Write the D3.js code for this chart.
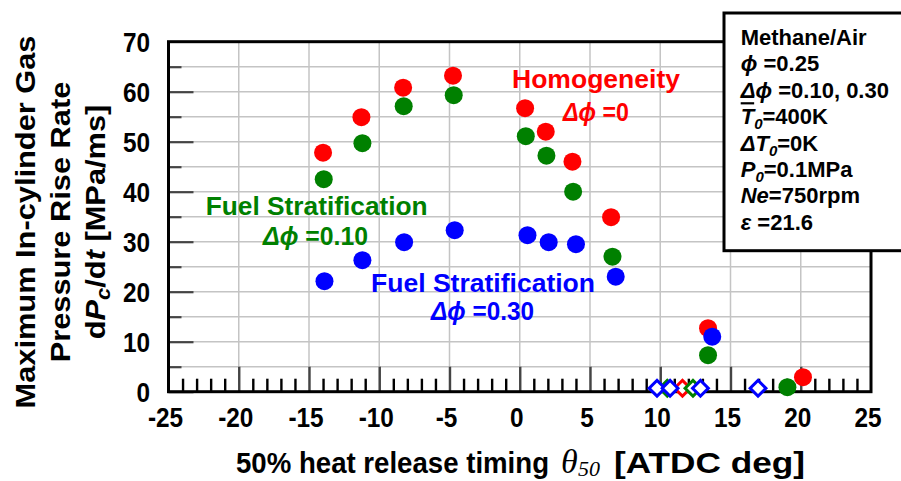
<!DOCTYPE html>
<html><head><meta charset="utf-8">
<script src="https://cdn.jsdelivr.net/npm/d3@7"></script>
<style>
html,body{margin:0;padding:0;background:#fff;}
svg{display:block;}
text{font-family:"Liberation Sans",Arial,sans-serif;font-weight:bold;}
text.serif{font-family:"Liberation Serif","Times New Roman",serif;font-weight:normal;font-style:italic;}
</style></head>
<body><svg id="c" width="901" height="481"></svg>
<script>
// ---- data ----
const xTicks = [-25,-20,-15,-10,-5,0,5,10,15,20,25];
const yTicks = [0,10,20,30,40,50,60,70];
const homX = [-14.0,-11.27,-8.3,-4.75,0.38,1.85,3.75,6.5,13.4,20.16];
const homY = [47.8,54.9,60.8,63.2,56.7,52.0,46.0,34.9,12.7,2.9];
const fs10X = [-13.95,-11.2,-8.26,-4.7,0.43,1.9,3.8,6.6,13.4,19.05];
const fs10Y = [42.5,49.7,57.1,59.3,51.1,47.2,40.0,27.0,7.3,0.9];
const fs30X = [-13.9,-11.2,-8.23,-4.63,0.55,2.06,4.0,6.83,13.7];
const fs30Y = [22.1,26.3,29.9,32.3,31.3,29.9,29.5,23.0,11.0];
const homMisX = [11.58];
const fs10MisX = [10.5,12.33];
const fs30MisX = [9.77,10.7,12.86,16.96];
const misY = 0.7;
const series = [
  {name:"Homogeneity", color:"#ff0000", xs:homX, ys:homY, mis:homMisX},
  {name:"FS 0.10", color:"#008000", xs:fs10X, ys:fs10Y, mis:fs10MisX},
  {name:"FS 0.30", color:"#0000ff", xs:fs30X, ys:fs30Y, mis:fs30MisX}
];

const svg = d3.select("#c");
const x = d3.scaleLinear().domain([-25,25]).range([168.5,871]);
const y = d3.scaleLinear().domain([0,70]).range([391.7,41.7]);

// grid
const g = svg.append("g");
g.selectAll(".vg").data(d3.range(-20,25,5)).enter().append("line")
  .attr("x1",d=>x(d)).attr("x2",d=>x(d)).attr("y1",y(70)).attr("y2",y(0))
  .attr("stroke","#c4c4c4").attr("stroke-width",1.5);
g.selectAll(".hg").data(d3.range(5,70,5)).enter().append("line")
  .attr("x1",x(-25)).attr("x2",x(25)).attr("y1",d=>y(d)).attr("y2",d=>y(d))
  .attr("stroke","#c4c4c4").attr("stroke-width",1.5);

// y axis ticks (inside)
const yAxis = d3.axisRight(y).tickValues(d3.range(0,70,5)).tickFormat("").tickSize(0);
const ya = svg.append("g").attr("transform",`translate(${x(-25)},0)`).call(yAxis);
ya.select(".domain").remove();
ya.selectAll(".tick line").attr("x2",d=>d%10===0?25:13).attr("stroke","#444").attr("stroke-width",2.2);

// x axis ticks (inside, pointing up)
const xAxis = d3.axisTop(x).tickValues(d3.range(-24,25,1)).tickFormat("").tickSize(0);
const xa = svg.append("g").attr("transform",`translate(0,${y(0)})`).call(xAxis);
xa.select(".domain").remove();
xa.selectAll(".tick line").attr("y2",d=>d%5===0?-25:-13)
  .attr("stroke",d=>d%5===0?"#444":"#000").attr("stroke-width",2.4);

// frame
svg.append("rect").attr("x",x(-25)).attr("y",y(70)).attr("width",x(25)-x(-25)).attr("height",y(0)-y(70))
  .attr("fill","none").attr("stroke","#000").attr("stroke-width",3);

// tick labels
const HS = 0.87;
function hText(sel, xx, yy, size, anchor){
  return sel.append("text").attr("transform",`translate(${xx},${yy}) scale(${HS},1)`)
    .attr("font-size",size).attr("text-anchor",anchor||"start");
}
yTicks.forEach(v=>{
  hText(svg, 150, y(v)+10, 28, "end").text(v);
});
xTicks.forEach(v=>{
  hText(svg, x(v)-3, 427, 28, "middle").text(v);
});

// y title
function yTitle(xx, build){
  const t = svg.append("text").attr("transform",`translate(${xx},222) rotate(-90) scale(1.1,1)`)
    .attr("font-size",28).attr("text-anchor","middle");
  build(t);
}
yTitle(35, t=>t.text("Maximum In-cylinder Gas"));
yTitle(70, t=>t.text("Pressure Rise Rate"));
yTitle(105, t=>{
  t.append("tspan").text("d");
  t.append("tspan").attr("font-style","italic").text("P");
  t.append("tspan").attr("font-style","italic").attr("font-size",20).attr("dy",5).text("c");
  t.append("tspan").attr("dy",-5).text("/d");
  t.append("tspan").attr("font-style","italic").text("t");
  t.append("tspan").text(" [MPa/ms]");
});

// x title
svg.append("text").attr("x",236).attr("y",473).attr("font-size",30)
  .attr("textLength",313).attr("lengthAdjust","spacingAndGlyphs").text("50% heat release timing");
svg.append("text").attr("class","serif").attr("x",561).attr("y",473).attr("font-size",34).text("θ");
svg.append("text").attr("class","serif").attr("x",578).attr("y",476).attr("font-size",22).text("50");
svg.append("text").attr("x",614).attr("y",473).attr("font-size",30)
  .attr("textLength",191).attr("lengthAdjust","spacingAndGlyphs").text("[ATDC deg]");

// annotations
function ann(xx, yy, w, color, build){
  const t = svg.append("text").attr("x",xx).attr("y",yy).attr("font-size",25).attr("fill",color)
    .attr("textLength",w).attr("lengthAdjust","spacingAndGlyphs");
  build(t);
}
function dphi(t, rest){
  t.append("tspan").attr("font-style","italic").text("Δϕ ");
  t.append("tspan").text(rest);
}
ann(512, 88, 168, "#ff0000", t=>t.text("Homogeneity"));
ann(563, 121, 66, "#ff0000", t=>dphi(t,"=0"));
ann(205.7, 215, 222, "#008000", t=>t.text("Fuel Stratification"));
ann(263, 245, 105, "#008000", t=>dphi(t,"=0.10"));
ann(371, 291.7, 224, "#0000ff", t=>t.text("Fuel Stratification"));
ann(431, 320, 103, "#0000ff", t=>dphi(t,"=0.30"));

// markers
series.forEach(s=>{
  svg.append("g").selectAll("circle").data(s.xs.map((v,i)=>[v,s.ys[i]])).enter().append("circle")
    .attr("cx",d=>x(d[0])).attr("cy",d=>y(d[1])).attr("r",9).attr("fill",s.color);
});
series.forEach(s=>{
  svg.append("g").selectAll("path").data(s.mis).enter().append("path")
    .attr("d",d3.symbol().type(d3.symbolSquare).size(125)())
    .attr("transform",d=>`translate(${x(d)},${y(misY)}) rotate(45)`)
    .attr("fill","#fff").attr("stroke",s.color).attr("stroke-width",3);
});

// legend box
svg.append("rect").attr("x",724).attr("y",13).attr("width",200).attr("height",237.7)
  .attr("fill","#fff").attr("stroke","#000").attr("stroke-width",3);
const lx = 740.7, ly0 = 45, dl = 26.4;
const sub = (t,s)=>t.append("tspan").attr("font-style","italic").attr("font-size",15).attr("dy",5).text(s);
const legLines = [
  t=>t.text("Methane/Air"),
  t=>{t.append("tspan").attr("font-style","italic").text("ϕ ");t.append("tspan").text("=0.25");},
  t=>{t.append("tspan").attr("font-style","italic").text("Δϕ ");t.append("tspan").text("=0.10, 0.30");},
  t=>{t.append("tspan").attr("font-style","italic").attr("text-decoration","overline").text("T");
      sub(t,"0"); t.append("tspan").attr("dy",-5).text("=400K");},
  t=>{t.append("tspan").attr("font-style","italic").text("ΔT");
      sub(t,"0"); t.append("tspan").attr("dy",-5).text("=0K");},
  t=>{t.append("tspan").attr("font-style","italic").text("P");
      sub(t,"0"); t.append("tspan").attr("dy",-5).text("=0.1MPa");},
  t=>{t.append("tspan").attr("font-style","italic").text("Ne");t.append("tspan").text("=750rpm");},
  t=>{t.append("tspan").attr("font-style","italic").text("ε ");t.append("tspan").text("=21.6");}
];
legLines.forEach((b,i)=>{
  const t = svg.append("text").attr("transform",`translate(${lx},${ly0+i*dl})`)
    .attr("font-size",22);
  b(t);
});
</script></body></html>
